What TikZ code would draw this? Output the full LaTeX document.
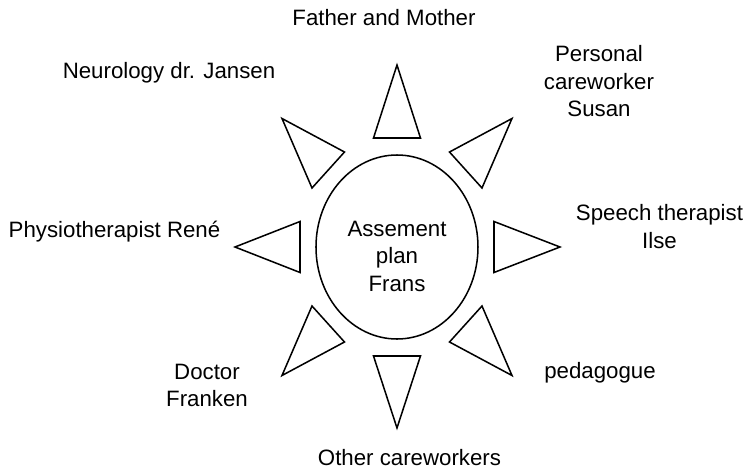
\documentclass[tikz,border=0pt]{standalone}
\usepackage{fontspec}
\setmainfont{Liberation Sans}
\usetikzlibrary{shapes.geometric}
\begin{document}
\begin{tikzpicture}[x=1cm,y=1cm,line width=1.3pt,every node/.style={font=\fontsize{19}{23.5}\selectfont,inner sep=0pt}]
\useasboundingbox (-11.91,-6.69) rectangle (10.62,7.41);
\node[draw,ellipse,minimum width=4.86cm,minimum height=5.52cm] (plan) at (0,0) {};
\node[align=center,anchor=north] (plantext) at (0,0.81) {Assement\\ plan\\ Frans};
\draw (-0.705,3.27) -- (0.705,3.27) -- (0,5.46) -- cycle;
\draw (1.575,2.85) -- (2.55,1.77) -- (3.45,3.855) -- cycle;
\draw (2.91,0.765) -- (2.91,-0.765) -- (4.89,0) -- cycle;
\draw (2.55,-1.77) -- (1.575,-2.85) -- (3.45,-3.855) -- cycle;
\draw (-0.705,-3.27) -- (0.705,-3.27) -- (0,-5.43) -- cycle;
\draw (-1.575,-2.85) -- (-2.55,-1.77) -- (-3.45,-3.855) -- cycle;
\draw (-2.91,0.765) -- (-2.91,-0.765) -- (-4.86,0) -- cycle;
\draw (-1.575,2.85) -- (-2.55,1.77) -- (-3.45,3.855) -- cycle;
\node[anchor=base] (father) at (-0.39,6.66) {Father and Mother};
\node[align=center,anchor=north] (personal) at (6.06,6.06) {Personal\\ careworker\\ Susan};
\node[align=center,anchor=north] (speech) at (7.875,1.29) {Speech therapist\\ Ilse};
\node[anchor=base] (pedagogue) at (6.09,-3.93) {pedagogue};
\node[anchor=base] (others) at (0.375,-6.54) {Other careworkers};
\node[align=center,anchor=north] (doctor) at (-5.70,-3.48) {Doctor\\ Franken};
\node[anchor=base] (physio) at (-8.475,0.30) {Physiotherapist René};
\node[anchor=base] (neuro) at (-6.84,5.07) {Neurology dr. Jansen};
\end{tikzpicture}
\end{document}
